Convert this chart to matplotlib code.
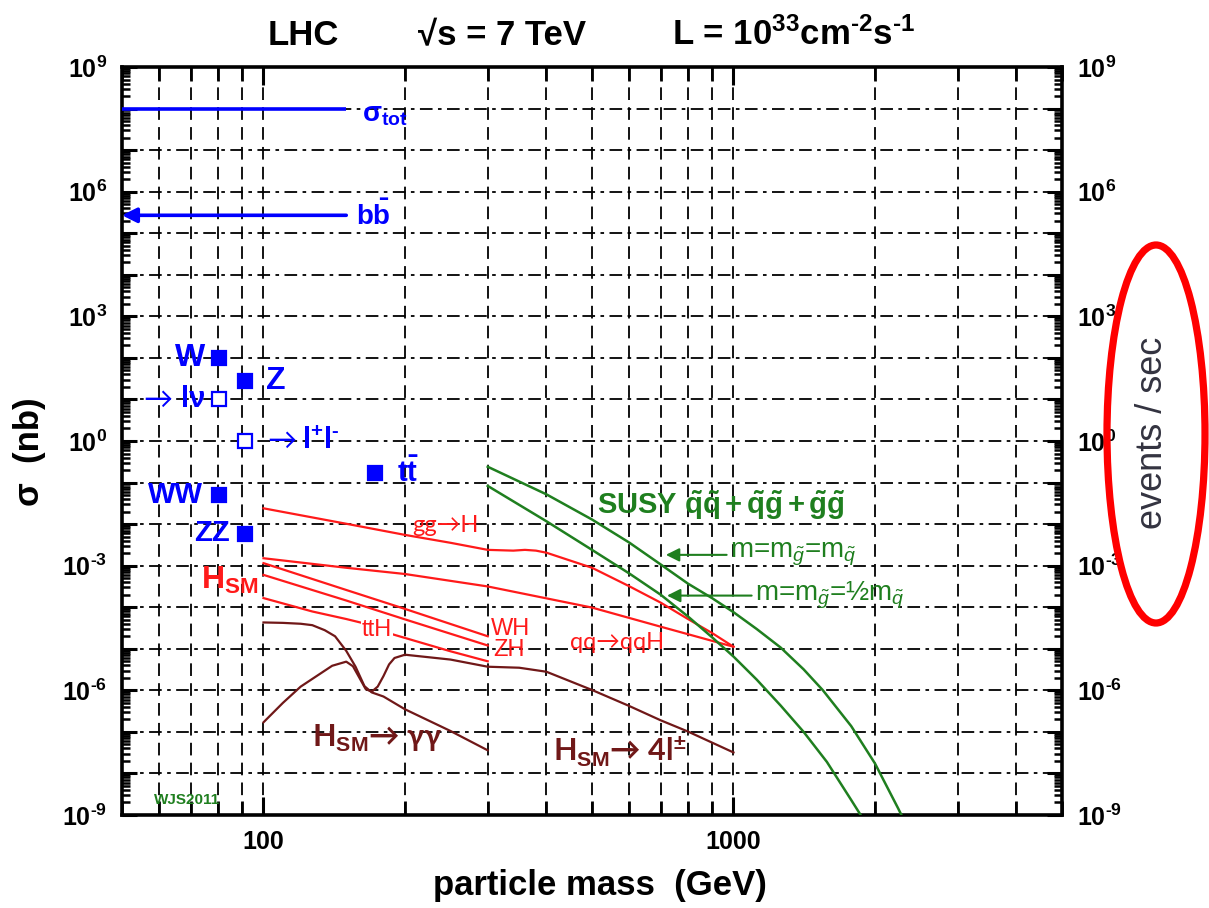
import matplotlib
matplotlib.use('Agg')
import matplotlib.pyplot as plt
from matplotlib.patches import Ellipse
from matplotlib.ticker import FixedLocator, FuncFormatter, NullFormatter, LogLocator
import numpy as np

plt.rcParams['font.family'] = ['Liberation Sans', 'DejaVu Sans']
plt.rcParams['mathtext.fontset'] = 'custom'
plt.rcParams['mathtext.rm'] = 'Liberation Sans'
plt.rcParams['mathtext.it'] = 'Liberation Sans:italic'
plt.rcParams['mathtext.bf'] = 'Liberation Sans:bold'
plt.rcParams['mathtext.sf'] = 'Liberation Sans'

ARROW_FONT = ['Lato', 'DejaVu Sans']
HY = '\u2010'  # short hyphen used as minus in exponents

# ---------------- data ----------------
sigma_tot = 1.0e8
sigma_bb = 2.7e5
inclusive_span = [50, 150]

std_names = ['W', 'Z', 'W_lnu', 'Z_ll', 'tt', 'WW', 'ZZ']
std_mass = [80.4, 91.2, 80.4, 91.2, 173, 80.4, 91.2]
std_sigma = [1.0e2, 2.8e1, 1.0e1, 1.0, 1.7e-1, 4.9e-2, 5.8e-3]
std_filled = [True, True, False, False, True, True, True]

mh_ggH = [100, 150, 200, 250, 300, 340, 360, 380, 400, 500, 600, 700, 800, 900, 1000]
sig_ggH = [2.4e-2, 1.02e-2, 5.5e-3, 3.55e-3, 2.4e-3, 2.3e-3, 2.4e-3, 2.3e-3, 2.05e-3,
           8.9e-4, 3.2e-4, 1.29e-4, 5.2e-5, 2.4e-5, 1.12e-5]

mh_qqH = [100, 150, 200, 300, 500, 700, 1000]
sig_qqH = [1.51e-3, 8.9e-4, 6.3e-4, 3.16e-4, 9.8e-5, 3.4e-5, 1.12e-5]

mh_WH = [100, 150, 200, 300]
sig_WH = [1.15e-3, 2.6e-4, 9.1e-5, 2.0e-5]

mh_ZH = [100, 150, 200, 300]
sig_ZH = [6.0e-4, 1.45e-4, 5.1e-5, 1.2e-5]

mh_ttH = [100, 127, 150, 162, 189, 250, 300]
sig_ttH = [1.66e-4, 7.9e-5, 5.2e-5, 4.2e-5, 2.2e-5, 8.7e-6, 5.0e-6]

mh_gamgam = [100, 110, 120, 127, 135, 142, 150, 157, 164, 170, 180, 200, 250, 300]
sig_gamgam = [4.3e-5, 4.2e-5, 4.0e-5, 3.7e-5, 2.8e-5, 2.0e-5, 8.9e-6, 3.7e-6, 1.26e-6,
              8.9e-7, 7.1e-7, 3.5e-7, 1.05e-7, 3.6e-8]

mh_4l = [100, 110, 120, 130, 140, 150, 155, 160, 165, 170, 175, 180, 185, 190, 200,
         250, 300, 350, 400, 500, 600, 700, 800, 1000]
sig_4l = [1.7e-7, 5.0e-7, 1.23e-6, 2.24e-6, 3.9e-6, 4.9e-6, 3.8e-6, 2.0e-6, 1.07e-6,
          9.3e-7, 1.23e-6, 2.2e-6, 4.2e-6, 6.0e-6, 7.2e-6, 5.5e-6, 3.7e-6, 3.5e-6,
          2.8e-6, 1.02e-6, 4.2e-7, 1.9e-7, 1.02e-7, 3.2e-8]

m_susy_eq = [300, 400, 500, 600, 700, 800, 900, 1000, 1120, 1260, 1410, 1550, 1780, 2000, 2240, 2300]
sig_susy_eq = [2.4e-1, 5.2e-2, 1.29e-2, 3.6e-3, 1.07e-3, 3.7e-4, 1.66e-4, 7.6e-5, 3.0e-5,
               1.07e-5, 3.2e-6, 1.0e-6, 1.38e-7, 1.74e-8, 1.45e-9, 7.9e-10]

m_susy_half = [300, 400, 500, 600, 700, 800, 900, 1000, 1120, 1260, 1410, 1580, 1780, 1850, 1900]
sig_susy_half = [8.3e-2, 1.17e-2, 2.4e-3, 6.5e-4, 2.0e-4, 6.0e-5, 1.9e-5, 6.5e-6, 1.82e-6,
                 4.3e-7, 1.0e-7, 1.9e-8, 2.3e-9, 1.15e-9, 6.9e-10]

x_ticks_major = [100, 1000]
x_tick_labels = ['100', '1000']
y_decades = list(range(-9, 10))

# ---------------- figure ----------------
W_PX, H_PX = 1209, 908
fig = plt.figure(figsize=(W_PX / 100, H_PX / 100), dpi=100)
ax = fig.add_axes([122 / W_PX, 1 - 815 / H_PX, (1062 - 122) / W_PX, (815 - 67) / H_PX])
ax.set_xscale('log')
ax.set_yscale('log')
ax.set_xlim(50, 5000)
ax.set_ylim(1e-9, 1e9)

BLUE = '#0000ff'
RED = '#ff1a1a'
GREEN = '#1f7f1f'
BROWN = '#701818'

# ticks
ax.xaxis.set_major_locator(FixedLocator(x_ticks_major))
ax.xaxis.set_major_formatter(FuncFormatter(
    lambda v, p: x_tick_labels[x_ticks_major.index(int(round(v)))] if int(round(v)) in x_ticks_major else ''))
ax.xaxis.set_minor_locator(LogLocator(base=10, subs=np.arange(2, 10)))
ax.xaxis.set_minor_formatter(NullFormatter())
ax.yaxis.set_major_locator(FixedLocator([10.0 ** k for k in y_decades]))
ax.yaxis.set_minor_locator(LogLocator(base=10, subs=np.arange(2, 10), numticks=40))
ax.yaxis.set_minor_formatter(NullFormatter())


def yfmt(v, p):
    k = int(round(np.log10(v)))
    if k % 3 == 0:
        e = ('%d' % k).replace('-', HY)
        return r'$\mathbf{10^{%s}}$' % e
    return ''


ax.yaxis.set_major_formatter(FuncFormatter(yfmt))
ax.tick_params(axis='both', which='both', direction='in', top=True, right=True,
               labelright=True, color='black')
ax.tick_params(axis='y', which='major', length=11, width=2.2, labelsize=18, pad=11)
ax.tick_params(axis='y', which='minor', length=6, width=1.8)
ax.tick_params(axis='x', which='major', length=13, width=2.2, labelsize=18, pad=11)
ax.tick_params(axis='x', which='minor', length=10, width=2.0)
for lab in ax.get_xticklabels():
    lab.set_fontweight('bold')

for s in ax.spines.values():
    s.set_linewidth(2.6)

ax.set_axisbelow(True)
ax.xaxis.grid(True, which='both', color='black', lw=1.3, linestyle=(0, (7, 4)))
ax.yaxis.grid(True, which='major', color='black', lw=1.3, linestyle=(0, (7, 3, 2, 3)))
ax.yaxis.grid(False, which='minor')

# inclusive cross sections
ax.plot(inclusive_span, [sigma_tot, sigma_tot], color=BLUE, lw=2.6, solid_capstyle='butt', zorder=4)
ax.annotate('', xy=(inclusive_span[0], sigma_bb), xytext=(inclusive_span[1], sigma_bb),
            arrowprops=dict(arrowstyle='-|>', color=BLUE, lw=2.6, mutation_scale=22,
                            shrinkA=0, shrinkB=0), zorder=4)
ax.text(162, 10 ** 7.85, r'$\mathbf{\sigma_{tot}}$', color=BLUE, fontsize=20, va='center', ha='left')
ax.text(157, 10 ** 5.42, r'$\mathbf{b\bar{b}}$', color=BLUE, fontsize=20, va='center', ha='left')

# standard model points
for m, s, f in zip(std_mass, std_sigma, std_filled):
    ax.plot([m], [s], marker='s', ms=10, mew=1.6, mec=BLUE,
            mfc=BLUE if f else 'white', ls='none', zorder=5)

ax.text(75, 1.0e2, 'W', color=BLUE, fontsize=23, fontweight='bold', ha='right', va='center')
ax.text(101, 10 ** 1.45, 'Z', color=BLUE, fontsize=23, fontweight='bold', ha='left', va='center')
# W -> l nu
ax.text(75, 1.0e1, 'lν', color=BLUE, fontsize=21, fontweight='bold', ha='right', va='center')
ax.annotate('→', xy=(75, 1.0e1), xytext=(-23, 0), textcoords='offset points', color=BLUE,
            fontsize=21, family=ARROW_FONT, ha='right', va='center')
# Z -> l+ l-
ax.annotate('→', xy=(102, 1.0), xytext=(0, 0), textcoords='offset points', color=BLUE,
            fontsize=21, family=ARROW_FONT, ha='left', va='center')
ax.annotate(r'l$^{\mathbf{+}}$l$^{\mathbf{%s}}$' % HY, xy=(102, 1.0), xytext=(25, 0),
            textcoords='offset points', color=BLUE, fontsize=21, fontweight='bold',
            ha='left', va='center')
ax.text(192, 10 ** -0.77, r'$\mathbf{t\bar{t}}$', color=BLUE, fontsize=21, ha='left', va='center')
ax.text(74.5, 10 ** -1.31, 'WW', color=BLUE, fontsize=21, fontweight='bold', ha='right', va='center')
ax.text(85, 10 ** -2.22, 'ZZ', color=BLUE, fontsize=21, fontweight='bold', ha='right', va='center')
ax.text(97.5, 10 ** -3.35, r'H$_{\mathbf{SM}}$', color=RED, fontsize=23, fontweight='bold',
        ha='right', va='center')

# Higgs production
for mh, sg in [(mh_ggH, sig_ggH), (mh_qqH, sig_qqH), (mh_WH, sig_WH), (mh_ZH, sig_ZH), (mh_ttH, sig_ttH)]:
    ax.plot(mh, sg, color=RED, lw=1.6, zorder=3)
ax.text(207, 10 ** -2.04, 'gg→H', color=RED, fontsize=17, family=ARROW_FONT, ha='left', va='center')
ax.text(162, 10 ** -4.55, 'ttH', color=RED, fontsize=17, ha='left', va='center',
        bbox=dict(facecolor='white', edgecolor='none', pad=0.5), zorder=3.5)
ax.text(305, 10 ** -4.52, 'WH', color=RED, fontsize=17, ha='left', va='center')
ax.text(308, 10 ** -5.03, 'ZH', color=RED, fontsize=17, ha='left', va='center')
ax.text(450, 10 ** -4.86, 'qq→qqH', color=RED, fontsize=17, family=ARROW_FONT, ha='left', va='center')

# Higgs decays
ax.plot(mh_gamgam, sig_gamgam, color=BROWN, lw=1.6, zorder=3)
ax.plot(mh_4l, sig_4l, color=BROWN, lw=1.6, zorder=3)
ax.text(127, 10 ** -7.15, r'H$_{\mathbf{SM}}$→ γγ', color=BROWN, fontsize=22, fontweight='bold',
        family=ARROW_FONT, ha='left', va='center')
ax.text(413, 10 ** -7.45, r'H$_{\mathbf{SM}}$→ 4l$^{\mathbf{\pm}}$', color=BROWN, fontsize=22,
        fontweight='bold', family=ARROW_FONT, ha='left', va='center')

# SUSY
ax.plot(m_susy_eq, sig_susy_eq, color=GREEN, lw=1.8, zorder=3)
ax.plot(m_susy_half, sig_susy_half, color=GREEN, lw=1.8, zorder=3)
ax.text(512, 10 ** -1.55, r'SUSY $\mathbf{\tilde{q}\tilde{q}+\tilde{q}\tilde{g}+\tilde{g}\tilde{g}}$',
        color=GREEN, fontsize=21, fontweight='bold', ha='left', va='center')
ax.annotate('', xy=(718, 10 ** -2.74), xytext=(967, 10 ** -2.74),
            arrowprops=dict(arrowstyle='-|>', color=GREEN, lw=1.5, mutation_scale=20,
                            shrinkA=0, shrinkB=0))
ax.text(985, 10 ** -2.72, r'm=m$_{\tilde{g}}$=m$_{\tilde{q}}$', color=GREEN, fontsize=20,
        ha='left', va='center')
ax.annotate('', xy=(722, 10 ** -3.72), xytext=(1093, 10 ** -3.72),
            arrowprops=dict(arrowstyle='-|>', color=GREEN, lw=1.5, mutation_scale=20,
                            shrinkA=0, shrinkB=0))
ax.text(1113, 10 ** -3.72, r'm=m$_{\tilde{g}}$=½m$_{\tilde{q}}$', color=GREEN, fontsize=20,
        ha='left', va='center')

ax.text(58.5, 10 ** -8.63, 'WJS2011', color=GREEN, fontsize=11, fontweight='bold',
        ha='left', va='center')

# axis labels
fig.text(600 / W_PX, 1 - 885 / H_PX, 'particle mass  (GeV)', fontsize=25, fontweight='bold',
         ha='center', va='center')
fig.text(30 / W_PX, 1 - 452 / H_PX, 'σ  (nb)', fontsize=25, fontweight='bold',
         rotation=90, ha='center', va='center')
fig.text(1152 / W_PX, 1 - 433 / H_PX, 'events / sec', fontsize=26, color='#333340',
         rotation=90, ha='center', va='center')

# title
ty = 1 - 45 / H_PX
fig.text(268 / W_PX, ty, 'LHC', fontsize=25, fontweight='bold', ha='left', va='baseline')
fig.text(418 / W_PX, ty, '√s = 7 TeV', fontsize=25, fontweight='bold', ha='left', va='baseline')
fig.text(672 / W_PX, ty, r'L = 10$^{\mathbf{33}}$cm$^{\mathbf{%s2}}$s$^{\mathbf{%s1}}$' % (HY, HY),
         fontsize=25, fontweight='bold', ha='left', va='baseline')

# red ellipse annotation
fig.patches.append(Ellipse((1156 / W_PX, 1 - 434 / H_PX), 98 / W_PX, 378 / H_PX,
                           transform=fig.transFigure, fill=False, edgecolor='#ff0000',
                           lw=5.2, figure=fig))

fig.savefig('out.png', dpi=100)
